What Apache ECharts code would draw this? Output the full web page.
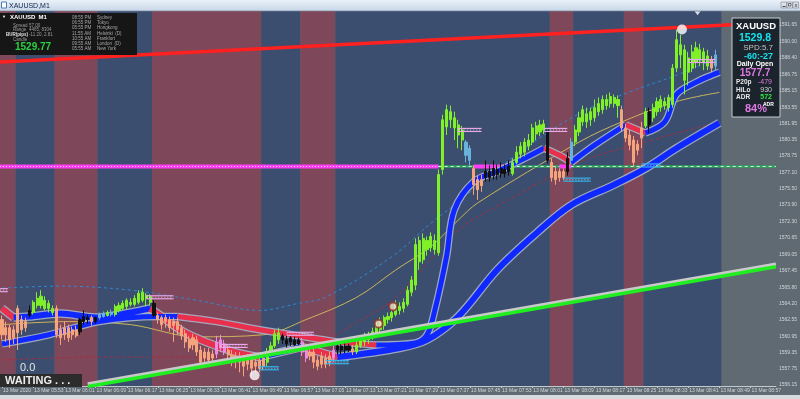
<!DOCTYPE html>
<html><head><meta charset="utf-8">
<script src="https://cdn.jsdelivr.net/npm/echarts@6/dist/echarts.min.js"></script>
<style>html,body{margin:0;padding:0;background:#606b74;overflow:hidden}#c{width:800px;height:399px}</style>
</head><body><div id="c"></div><script>
// ---------- DATA ----------
const barCount = 199;
const xTickLabels = ["13 Mar 2020","13 Mar 05:53","13 Mar 06:01","13 Mar 06:09","13 Mar 06:17","13 Mar 06:25","13 Mar 06:33","13 Mar 06:41","13 Mar 06:49","13 Mar 06:57","13 Mar 07:05","13 Mar 07:13","13 Mar 07:21","13 Mar 07:29","13 Mar 07:37","13 Mar 07:45","13 Mar 07:53","13 Mar 08:01","13 Mar 08:09","13 Mar 08:17","13 Mar 08:25","13 Mar 08:33","13 Mar 08:41","13 Mar 08:49","13 Mar 08:57"];
const yTicks = [1556.15,1557.75,1559.35,1560.95,1562.55,1564.20,1565.80,1567.45,1569.05,1570.65,1572.30,1573.90,1575.50,1577.10,1578.75,1580.35,1581.95,1583.55,1585.15,1586.75,1588.40,1590.00,1591.65];

const open = [
1562.6,1561.1,1561.8,1560.8,1563.7,1562.6,1561.8,1563.0,1563.3,1564.0,
1564.0,1563.7,1563.7,1563.3,1563.7,1561.6,1561.1,1561.8,1561.1,1561.6,
1561.4,1562.4,1562.8,1562.8,1562.4,1562.8,1562.9,1563.0,1563.1,1563.1,
1563.5,1563.7,1563.9,1564.1,1564.1,1564.3,1564.5,1564.7,1564.3,1564.2,
1563.0,1562.8,1562.4,1562.6,1562.0,1562.4,1561.8,1561.2,1560.6,1560.1,
1560.6,1559.6,1558.8,1559.4,1558.8,1559.2,1559.8,1560.2,1559.6,1559.1,
1558.6,1559.0,1558.6,1558.2,1558.8,1558.0,1558.6,1558.0,1558.4,1559.4,
1560.0,1560.6,1561.0,1560.6,1560.4,1560.6,1560.2,1560.4,1559.6,1559.0,
1559.4,1558.6,1558.2,1558.8,1558.4,1558.8,1559.6,1560.0,1559.6,1560.0,
1559.7,1559.4,1560.0,1560.4,1560.6,1560.8,1561.2,1561.6,1562.0,1562.6,
1562.8,1563.1,1563.5,1563.7,1564.1,1565.3,1566.0,1568.3,1568.5,1569.5,
1569.7,1569.5,1569.2,1577.4,1581.6,1582.3,1581.5,1580.8,1580.3,1580.1,
1579.5,1577.5,1576.4,1575.8,1576.6,1577.2,1576.8,1577.4,1577.0,1577.4,
1577.2,1577.0,1578.1,1578.9,1579.1,1579.7,1580.1,1580.9,1581.1,1581.3,
1581.3,1578.1,1577.2,1576.6,1577.2,1577.2,1578.3,1580.1,1581.1,1582.1,
1582.1,1582.3,1582.5,1583.1,1583.3,1583.7,1583.9,1583.9,1583.7,1583.3,
1581.5,1580.8,1580.3,1579.3,1580.5,1581.7,1583.1,1582.5,1583.1,1583.5,
1583.7,1583.5,1583.8,1587.4,1588.7,1586.2,1587.0,1587.4,1588.0,1588.2,
1588.0,1587.6,1588.2,1587.6];
const close = [
1561.1,1561.8,1560.6,1561.6,1561.3,1561.6,1562.4,1563.5,1564.3,1564.7,
1564.9,1564.5,1564.2,1563.7,1561.1,1560.8,1561.8,1560.8,1561.6,1561.0,
1562.6,1562.9,1562.6,1562.4,1562.8,1563.1,1563.2,1563.3,1563.3,1563.9,
1564.0,1564.2,1564.5,1564.3,1564.7,1565.2,1565.3,1565.0,1564.9,1563.0,
1562.6,1562.1,1562.8,1561.8,1562.4,1561.6,1561.0,1560.4,1559.8,1560.8,
1559.4,1558.4,1559.4,1558.6,1559.2,1560.4,1560.6,1559.4,1559.1,1558.4,
1559.0,1558.4,1558.0,1558.8,1557.8,1558.4,1557.8,1558.8,1559.4,1560.0,
1561.2,1561.3,1560.6,1560.2,1560.8,1560.1,1560.6,1559.4,1558.8,1559.4,
1558.4,1558.0,1559.0,1558.2,1559.0,1559.6,1560.0,1559.6,1560.0,1559.6,
1559.4,1560.1,1560.6,1561.0,1561.1,1561.4,1562.0,1562.4,1562.8,1562.9,
1563.3,1564.1,1563.9,1564.3,1565.5,1566.5,1570.0,1570.4,1570.6,1570.4,
1570.8,1570.4,1576.9,1582.3,1583.3,1583.1,1582.5,1581.8,1581.3,1578.8,
1578.3,1575.9,1575.4,1576.4,1577.2,1576.6,1577.5,1576.9,1577.5,1577.0,
1577.7,1578.1,1579.1,1579.7,1580.1,1580.3,1581.5,1581.7,1581.8,1581.9,
1578.3,1576.6,1576.4,1577.2,1576.6,1578.5,1580.1,1581.3,1582.5,1583.3,
1582.9,1583.1,1583.5,1583.9,1584.3,1584.3,1584.6,1584.5,1584.3,1581.5,
1580.5,1579.8,1578.1,1579.9,1581.5,1583.1,1581.8,1583.5,1584.1,1584.3,
1584.1,1584.5,1587.4,1590.2,1589.7,1589.2,1588.4,1589.0,1589.4,1589.2,
1589.0,1588.6,1587.4,1588.7];
const high = [
1563.0,1562.4,1562.1,1562.0,1564.0,1563.0,1562.8,1564.0,1564.5,1565.3,
1565.5,1564.9,1564.5,1564.0,1564.0,1562.1,1562.4,1562.1,1561.9,1562.0,
1562.8,1563.5,1563.1,1563.0,1562.9,1563.3,1563.4,1563.5,1563.6,1564.1,
1564.3,1564.5,1564.7,1564.7,1565.0,1565.5,1565.7,1565.2,1565.1,1564.5,
1563.3,1563.0,1563.1,1562.9,1562.8,1562.8,1562.1,1561.6,1561.0,1561.2,
1561.0,1560.0,1559.8,1559.8,1559.6,1561.0,1561.1,1560.6,1560.0,1559.6,
1559.4,1559.4,1559.1,1559.2,1559.2,1559.0,1559.0,1559.2,1559.8,1560.4,
1561.6,1561.8,1561.2,1561.0,1561.0,1560.9,1560.8,1560.8,1560.0,1559.8,
1559.8,1559.0,1559.4,1559.2,1559.4,1560.0,1560.4,1560.3,1560.3,1560.2,
1560.1,1560.6,1561.0,1561.3,1561.4,1561.8,1562.4,1562.8,1563.0,1563.3,
1563.7,1564.5,1564.3,1564.7,1565.9,1566.9,1570.6,1570.8,1571.1,1570.8,
1571.2,1571.0,1577.4,1582.8,1583.8,1583.7,1583.1,1582.3,1581.7,1580.3,
1579.8,1577.8,1576.8,1576.9,1578.3,1577.8,1578.3,1577.9,1578.1,1577.9,
1578.3,1578.5,1579.7,1580.1,1580.5,1580.9,1581.9,1582.1,1582.3,1582.3,
1581.5,1578.5,1577.7,1577.5,1577.5,1579.1,1580.5,1581.8,1583.1,1583.7,
1583.5,1583.5,1584.3,1584.5,1584.7,1584.8,1585.0,1584.8,1584.7,1583.7,
1581.9,1581.3,1580.7,1580.3,1582.1,1583.5,1583.5,1583.9,1584.5,1584.7,
1584.5,1584.8,1587.8,1591.2,1590.7,1589.7,1589.0,1589.7,1590.0,1589.8,
1589.4,1589.2,1588.6,1589.2];
const low = [
1560.6,1560.4,1559.8,1560.2,1559.6,1561.1,1561.4,1562.8,1563.1,1563.7,
1563.7,1563.5,1563.3,1563.0,1560.8,1560.1,1560.6,1560.4,1560.6,1560.8,
1561.1,1562.1,1562.2,1562.0,1562.2,1562.6,1562.8,1562.9,1562.9,1562.9,
1563.3,1563.5,1563.6,1563.9,1563.9,1564.1,1564.3,1563.9,1564.0,1562.8,
1562.2,1561.6,1561.8,1561.4,1560.4,1561.1,1560.6,1559.8,1559.4,1559.6,
1559.0,1558.1,1558.4,1558.3,1558.4,1558.8,1559.4,1559.1,1558.6,1558.0,
1557.8,1557.4,1557.0,1557.6,1557.1,1557.4,1557.4,1557.6,1558.0,1559.0,
1559.8,1560.2,1560.2,1559.8,1560.0,1559.8,1559.9,1559.0,1558.4,1558.6,
1557.8,1557.6,1557.8,1557.8,1558.0,1558.4,1559.2,1559.2,1559.3,1559.4,
1559.1,1559.2,1559.8,1560.0,1560.2,1560.6,1560.8,1561.2,1561.6,1562.2,
1562.4,1562.9,1563.1,1563.3,1563.9,1564.9,1565.5,1567.5,1568.1,1568.9,
1569.3,1569.0,1568.9,1576.9,1580.8,1581.5,1580.3,1579.5,1579.3,1578.1,
1577.8,1574.9,1574.4,1575.2,1576.2,1576.2,1576.4,1576.4,1576.6,1576.6,
1576.8,1576.8,1577.9,1578.5,1578.7,1579.3,1579.8,1580.3,1580.7,1580.9,
1578.0,1576.2,1575.9,1576.2,1576.4,1576.8,1577.9,1579.7,1580.7,1581.7,
1581.5,1581.7,1582.1,1582.7,1582.9,1583.3,1583.5,1583.5,1582.5,1581.1,
1580.1,1579.3,1577.7,1578.8,1579.5,1581.5,1581.0,1582.1,1582.7,1583.1,
1583.3,1583.1,1583.5,1587.0,1587.4,1584.8,1585.7,1587.0,1587.4,1587.6,
1587.2,1587.2,1587.0,1587.2];
// u = bull green, d = bear salmon, n = black, p = pink, b = light blue
const candleState =
  "ddddddd"+"n"+"uuuuuu"+"dddddd"+"nnn"+"d"+"n"+"bb"+"u"+"b"+"uuuuuuuuuu"+"n"+"ddddddddddddddd"+"ppp"+"dddddddddd"+"uuuu"+"nnnnn"+"pp"+"dddddd"+"p"+"nnnn"+"d"+"uuuuuuuuuuuuuuuuuuuuuuuuuuuu"+"bb"+"ddd"+"nnnnnnn"+"uuuuuuuuu"+"n"+"dddd"+"n"+"b"+"uuuuuuuuuuuu"+"dddddd"+"u"+"n"+"uuuuuuuuuuuuuuu"+"d"+"b";

// session bands (bar index ranges), m = maroon, b = blue
const bandStart = [-0.5,3.5,13.5,24.5,38.5,66.5,76.5,85.5,140.5,146.5,159.5,164.5];
const bandEnd   = [3.5,13.5,24.5,38.5,66.5,76.5,85.5,140.5,146.5,159.5,164.5,184.5];
const bandType  = "mbmbmbmbmbmb";

// colour-changing moving averages (b = rising/blue, r = falling/red, per segment)
const maMidBar   = [0,12,25,40,45,55,66,76,86,96,106,109,111,114,116,121,127,133,139,143,146,152,160,165,170,173,178,182,184];
const maMidPrice = [1560.2,1561.1,1562.4,1562.9,1562.9,1562.4,1561.6,1561.0,1560.4,1560.1,1560.3,1561.1,1563.5,1568.8,1573.4,1576.2,1577.2,1578.3,1579.5,1578.8,1578.1,1579.8,1581.8,1581.0,1582.1,1584.8,1586.0,1586.7,1587.0];
const maMidState = "bbbbrrrrrbbbbbbbbbrrbbrbbbbb";
const maSlowBar   = [0,3,7,15,24,33,38,41,47,58,66,77,86,102,109,117,127,137,146,157,165,173,184];
const maSlowPrice = [1563.7,1562.8,1562.9,1563.2,1562.8,1563.3,1563.7,1562.9,1561.3,1559.6,1558.9,1559.9,1558.9,1559.8,1560.6,1562.9,1567.5,1571.1,1573.9,1575.9,1577.5,1579.5,1582.0];
const maSlowState = "rbbbbbrrrrbrbbbbbbbbbb";

// thin envelope lines
const upperBar   = [0,15,33,50,66,76,83,100,110,117,127,139,150,162,173,184];
const upperPrice = [1565.7,1565.9,1565.5,1564.5,1563.5,1564.2,1564.8,1568.8,1572.1,1574.2,1577.4,1580.8,1583.3,1585.2,1586.7,1588.5];
const midBar   = [0,17,33,50,67,78,91,101,110,117,122,148,159,173,184];
const midPrice = [1562.1,1562.4,1562.1,1560.9,1561.1,1562.6,1564.8,1567.5,1569.8,1572.4,1574.1,1580.1,1582.1,1584.1,1585.0];
const lowerBar   = [0,25,50,66,78,91,101,117,129,148,165,184];
const lowerPrice = [1558.6,1558.9,1558.9,1559.0,1559.6,1562.3,1564.8,1571.4,1574.2,1578.1,1580.1,1582.1];

// trend lines
const resistBar = [-0.5,198.5], resistPrice = [1588.0,1591.9];
const supportBar = [22,198.5], supportPrice = [1556.0,1567.8];

// daily open level
const dailyOpen = 1577.7;
const dailyOpenSplitBar = 112;
const dailyOpenHiStart = [121,143], dailyOpenHiEnd = [130,146];

// short level markers (p = pink, c = cyan)
const mkStart = [-0.5,37,56,73,66,83,117,139,144,164,176];
const mkEnd   = [1.5,44,63,80,71,89,123,145,151,169,183];
const mkPrice = [1565.5,1564.8,1560.0,1561.2,1557.8,1558.4,1581.3,1581.3,1576.4,1577.8,1588.1];
const mkType  = "ppppccppccp";

// signal markers
const dotBar = [174.4,64.8], dotPrice = [1591.2,1557.1];
const ringBar = [96.6,100.3], ringPrice = [1562.2,1563.9];
const arrowBar = [178.4], arrowPrice = [1592.8];

// ---------- CHART ----------
const C = {bg:'#5f6a73', maroon:'#7e475a', blue:'#3b4e6f', axis:'#c2c9cf', label:'#d2d6da',
  up:'#80f028', dn:'#f5a47c', blk:'#101010', pink:'#ee8ce4', lblue:'#68b2dc',
  maBlue:'#0f28ff', maRed:'#e8304c', outline:'#a9b1c8'};
const stateColor = {u:C.up, d:C.dn, n:C.blk, p:C.pink, b:C.lblue};
const FONT = '"Liberation Sans", Arial, sans-serif';

const candleData = open.map((o,i)=>{
  const col = stateColor[candleState[i]];
  return {value:[o, close[i], low[i], high[i]], itemStyle:{color:col, color0:col, borderColor:col, borderColor0:col}};
});

function lineSeries(bars, prices, style, z, smooth){
  return {type:'line', xAxisIndex:1, yAxisIndex:0, data:bars.map((b,i)=>[b,prices[i]]),
    symbol:'none', showSymbol:false, smooth: smooth===undefined?0.35:smooth, lineStyle:style, z:z, silent:true, animation:false};
}
function coloredMA(bars, prices, states, width){
  const out=[]; let k=0;
  while(k<states.length){
    let j=k; while(j<states.length && states[j]===states[k]) j++;
    const b=bars.slice(k,j+1), p=prices.slice(k,j+1);
    out.push(lineSeries(b,p,{color:C.outline, width:width+2.5, opacity:0.9},3));
    out.push(lineSeries(b,p,{color: states[k]==='r'?C.maRed:C.maBlue, width:width},4));
    k=j;
  }
  return out;
}

const series = [];
series.push({type:'custom', xAxisIndex:1, yAxisIndex:0, silent:true, z:1, animation:false,
  data: bandStart.map((s,i)=>[s, bandEnd[i], 1570]),
  renderItem:(params, api)=>{
    const cs = params.coordSys;
    const x0 = api.coord([api.value(0), 1570])[0], x1 = api.coord([api.value(1), 1570])[0];
    return {type:'rect', shape:{x:x0, y:cs.y, width:x1-x0, height:cs.height},
      style:{fill: bandType[params.dataIndex]==='m'?C.maroon:C.blue}};
  }});
series.push(lineSeries(upperBar, upperPrice, {color:'#2f88d6', width:1, type:[3,3]}, 2));
series.push(lineSeries(midBar, midPrice, {color:'#cbb55c', width:1}, 2));
series.push(lineSeries(lowerBar, lowerPrice, {color:'#b02a3c', width:1, type:[3,3]}, 2));
series.push(lineSeries([-0.5, dailyOpenSplitBar], [dailyOpen, dailyOpen], {color:'#ff3cf5', width:4}, 2, false));
series.push(lineSeries([-0.5, dailyOpenSplitBar], [dailyOpen, dailyOpen], {color:'#ffd8ff', width:1, type:[1,2]}, 2.1, false));
series.push(lineSeries([dailyOpenSplitBar, 198.5], [dailyOpen, dailyOpen], {color:'#2ea55e', width:2.5}, 2, false));
series.push(lineSeries([dailyOpenSplitBar, 198.5], [dailyOpen, dailyOpen], {color:'#d6f5dc', width:1, type:[3,3]}, 2.1, false));
dailyOpenHiStart.forEach((s,i)=>{
  series.push(lineSeries([s, dailyOpenHiEnd[i]], [dailyOpen, dailyOpen], {color:'#ff3cf5', width:4}, 2.2, false));
});
coloredMA(maSlowBar, maSlowPrice, maSlowState, 6).forEach(s=>series.push(s));
coloredMA(maMidBar, maMidPrice, maMidState, 5).forEach(s=>series.push(s));
series.push({type:'candlestick', xAxisIndex:0, yAxisIndex:0, barWidth:2.6, z:5, silent:true, animation:false,
  itemStyle:{borderWidth:1}, data:candleData});
series.push(lineSeries(resistBar, resistPrice, {color:'#ff2020', width:3.5}, 6, false));
series.push(lineSeries(supportBar, supportPrice, {color:'#20ee20', width:3.5, shadowColor:'#c9c9c9', shadowOffsetY:-2.5, shadowBlur:0}, 6, false));
series.push({type:'custom', xAxisIndex:1, yAxisIndex:0, silent:true, z:7, animation:false,
  data: mkStart.map((s,i)=>[s, mkPrice[i], mkEnd[i]]),
  renderItem:(params, api)=>{
    const a = api.coord([api.value(0), api.value(1)]), b = api.coord([api.value(2), api.value(1)]);
    const col = mkType[params.dataIndex]==='p' ? '#e9a6ea' : '#33b6ee';
    return {type:'group', children:[
      {type:'line', shape:{x1:a[0], y1:a[1]-1.5, x2:b[0], y2:a[1]-1.5}, style:{stroke:col, lineWidth:1.2}},
      {type:'line', shape:{x1:a[0], y1:a[1]+1.5, x2:b[0], y2:a[1]+1.5}, style:{stroke:col, lineWidth:1.2}},
      {type:'line', shape:{x1:a[0], y1:a[1], x2:b[0], y2:a[1]}, style:{stroke:'#ffffff', lineWidth:1, lineDash:[1,2], opacity:0.6}}
    ]};
  }});
series.push({type:'scatter', xAxisIndex:1, yAxisIndex:0, silent:true, z:8, animation:false, symbol:'circle', symbolSize:10,
  itemStyle:{color:'#ffffff'}, data: dotBar.map((b,i)=>[b, dotPrice[i]])});
series.push({type:'scatter', xAxisIndex:1, yAxisIndex:0, silent:true, z:8, animation:false, symbol:'circle', symbolSize:8,
  itemStyle:{color:'#f3e6c8', borderColor:'#8e2f2f', borderWidth:2}, data: ringBar.map((b,i)=>[b, ringPrice[i]])});
series.push({type:'scatter', xAxisIndex:1, yAxisIndex:0, silent:true, z:8, animation:false, symbol:'triangle', symbolRotate:180, symbolSize:[6,4],
  itemStyle:{color:'#ffffff'}, data: arrowBar.map((b,i)=>[b, arrowPrice[i]])});

function txt(x,y,text,size,fill,bold,align){
  return {type:'text', x:x, y:y, z:100, silent:true,
    style:{text:text, fill:fill, font:(bold?'bold ':'')+size+'px '+FONT, align:align||'left', verticalAlign:'top'}};
}
const leftRows = [["08:55 PM","Sydney"],["06:55 PM","Tokyo"],["05:55 PM","Hongkong"],["11:55 AM","Helsinki  (D)"],["10:55 AM","Frankfurt"],["09:55 AM","London  (D)"],["05:55 AM","New York"]];
const graphics = [
  {type:'rect', shape:{x:0,y:0,width:800,height:11}, style:{fill:new echarts.graphic.LinearGradient(0,0,0,1,[{offset:0,color:'#eaf1f8'},{offset:1,color:'#c7d6e8'}])}, z:100},
  {type:'rect', shape:{x:0,y:10.5,width:800,height:0.8}, style:{fill:'#8c9cb0'}, z:100},
  {type:'rect', shape:{x:1.5,y:2,width:5,height:6}, style:{fill:'#ffffff', stroke:'#4c7bb8', lineWidth:1}, z:101},
  txt(9,2.2,'XAUUSD,M1',7,'#10244a',false),
  {type:'rect', shape:{x:781,y:2,width:5.5,height:6}, style:{fill:'#dfe3e8', stroke:'#7a8490', lineWidth:0.6}, z:101},
  {type:'rect', shape:{x:787,y:2,width:5.5,height:6}, style:{fill:'#dfe3e8', stroke:'#7a8490', lineWidth:0.6}, z:101},
  {type:'rect', shape:{x:793,y:2,width:5.5,height:6}, style:{fill:'#dfe3e8', stroke:'#7a8490', lineWidth:0.6}, z:101},
  {type:'rect', shape:{x:782.5,y:6,width:3,height:0.8}, style:{fill:'#222'}, z:102},
  {type:'rect', shape:{x:788.5,y:3.5,width:2.5,height:2.5}, style:{fill:'none', stroke:'#222', lineWidth:0.6}, z:102},
  {type:'text', x:794.5, y:2, z:102, style:{text:'x', fill:'#222', font:'6px '+FONT}},
  {type:'rect', shape:{x:0,y:13,width:137,height:42}, style:{fill:'#161616'}, z:100},
  txt(2,15,'\u25BC',4,'#ffffff',false),
  txt(10,14.5,'XAUUSD',6,'#ffffff',true),
  txt(38.5,14.5,'M1',6,'#ffffff',true),
  txt(13,23,'Spread',4.5,'#9c9c9c',false), txt(29,23,'57.00',4.5,'#9c9c9c',false),
  txt(13,27.6,'Range',4.5,'#9c9c9c',false), txt(29,27.6,'4465, 8304',4.5,'#9c9c9c',false),
  txt(6,32.2,'BUR(pips)',4.5,'#e0e0e0',true), txt(29,32.2,'-11.20, 2.81',4.5,'#9c9c9c',false),
  txt(13,36.8,'Candle',4.5,'#9c9c9c',false),
  txt(15,42,'1529.77',10,'#2bd23f',true),
  ...leftRows.flatMap((r,i)=>[txt(72,15.5+i*5.1,r[0],4.5,'#a8a8a8',false), txt(97,15.5+i*5.1,r[1],4.5,'#a8a8a8',false)]),
  {type:'rect', shape:{x:732,y:18,width:48,height:99}, style:{fill:'#1b232c', stroke:'#c8ccd2', lineWidth:1}, z:100},
  txt(756,21.5,'XAUUSD',9.5,'#ffffff',true,'center'),
  txt(755,33,'1529.8',10.5,'#14e3ef',true,'center'),
  txt(773,44,'SPD:5.7',8,'#c4c4c4',false,'right'),
  txt(773,52.5,'-60:-27',9,'#14e3ef',true,'right'),
  txt(755,61,'Daily Open',7,'#ffffff',true,'center'),
  txt(755,68,'1577.7',10,'#e27ae6',true,'center'),
  txt(736,78.5,'P20p',6.5,'#e8e8e8',true), txt(772,78.5,'-479',7,'#e27ae6',false,'right'),
  txt(736,86.3,'HiLo',6.5,'#e8e8e8',true), txt(772,86.3,'930',7,'#cfcfcf',false,'right'),
  txt(736,94,'ADR',6.5,'#e8e8e8',true), txt(772,94,'572',7,'#2ee83a',true,'right'),
  txt(745,103,'84%',11,'#e27ae6',true), txt(763,102.3,'ADR',5,'#ffffff',true),
  txt(20,362,'0.0',11,'#e6e6e6',false),
  {type:'rect', shape:{x:0,y:374,width:82,height:13}, style:{fill:'#2c2c2c'}, z:100},
  txt(5,375.5,'WAITING . . .',11,'#ececec',true),
  {type:'rect', shape:{x:0,y:395,width:800,height:4}, style:{fill:'#d8dbde'}, z:100}
];

const chart = echarts.init(document.getElementById('c'), null, {renderer:'canvas', width:800, height:399});
chart.setOption({
  animation:false,
  backgroundColor:C.bg,
  textStyle:{fontFamily:FONT},
  grid:{left:0, right:18, top:11, bottom:13, show:true, backgroundColor:C.bg, borderWidth:0},
  xAxis:[
    {type:'category', data:Array.from({length:barCount},(_,i)=>String(i)), boundaryGap:true,
     axisLine:{show:true, lineStyle:{color:C.axis, width:1}},
     axisTick:{show:true, alignWithLabel:true, interval:(i)=>i%8===0, length:2, lineStyle:{color:C.axis}},
     axisLabel:{show:true, interval:(i)=>i%8===0, formatter:(v,i)=>xTickLabels[i/8]||'', align:'left', margin:2.5,
       fontSize:5, color:C.label, fontFamily:FONT, padding:[0,0,0,1]},
     splitLine:{show:false}},
    {type:'value', min:-0.5, max:198.5, show:false, splitLine:{show:false}}
  ],
  yAxis:[{type:'value', position:'right', min:1556.05, max:1593.03, scale:true,
    axisLine:{show:true, lineStyle:{color:C.axis, width:1}},
    axisTick:{show:true, length:2, customValues:yTicks, lineStyle:{color:C.axis}},
    axisLabel:{show:true, customValues:yTicks, formatter:(v)=>Number(v).toFixed(2), fontSize:5, color:C.label, margin:3, fontFamily:FONT},
    splitLine:{show:false}}],
  series:series,
  graphic:graphics
});
</script></body></html>
